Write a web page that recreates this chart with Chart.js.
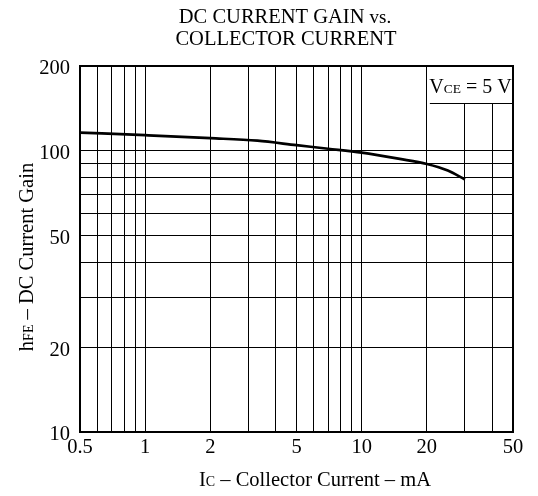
<!DOCTYPE html>
<html>
<head>
<meta charset="utf-8">
<script src="https://cdn.jsdelivr.net/npm/chart.js@4/dist/chart.umd.min.js"></script>
<style>
    html, body { margin: 0; padding: 0; background: #fff; }
    canvas { display: block; }
</style>
</head>
<body>
<canvas id="gainChart" width="538" height="496"></canvas>
<script>
// DC current gain vs collector current (log-log).
const currentMA = [0.5, 1, 2, 3.3, 5, 7, 10, 15, 20, 25, 30];
const gain = [116, 113.5, 110.8, 108.5, 104.6, 101.6, 98.4, 93.5, 89.7, 85, 79];

const xGrid = [0.5, 0.6, 0.7, 0.8, 0.9, 1, 2, 3, 4, 5, 6, 7, 8, 9, 10, 20, 30, 40, 50];
const xLabels = [0.5, 1, 2, 5, 10, 20, 50];
const yGrid = [10, 20, 30, 40, 50, 60, 70, 80, 90, 100, 200];
const yLabels = [10, 20, 50, 100, 200];

const SERIF = '"Liberation Serif", "Times New Roman", serif';

// Draw text pieces of mixed size (used for the small-caps subscripts).
function drawRuns(ctx, runs, x, y, align) {
    let total = 0;
    for (const r of runs) {
        ctx.font = `${r.size}px ${SERIF}`;
        r.w = ctx.measureText(r.text).width;
        total += r.w;
    }
    let cx = align === 'center' ? x - total / 2 : x;
    ctx.textAlign = 'left';
    ctx.textBaseline = 'alphabetic';
    for (const r of runs) {
        ctx.font = `${r.size}px ${SERIF}`;
        ctx.fillText(r.text, cx, y);
        cx += r.w;
    }
}

const frame = {
    id: 'frame',
    beforeDatasetsDraw(chart) {
        // white patch for the V_CE note, covering the 30/40 grid lines
        const { ctx, chartArea: a, scales } = chart;
        const left = scales.x.getPixelForValue(20) + 3;
        const bottom = a.top + 37;
        ctx.save();
        ctx.fillStyle = '#fff';
        ctx.fillRect(left, a.top, a.right - left, bottom - a.top);
        ctx.strokeStyle = '#000';
        ctx.lineWidth = 1;
        ctx.beginPath();
        ctx.moveTo(left, bottom + 0.5);
        ctx.lineTo(a.right, bottom + 0.5);
        ctx.stroke();
        ctx.restore();
    },
    afterDraw(chart) {
        const { ctx, chartArea: a, scales } = chart;
        ctx.save();
        ctx.strokeStyle = '#000';
        ctx.lineWidth = 2;
        ctx.strokeRect(a.left, a.top, a.right - a.left, a.bottom - a.top);
        ctx.fillStyle = '#000';

        drawRuns(ctx, [{ text: 'DC CURRENT GAIN ', size: 20.5 }, { text: 'vs.', size: 19 }], 285, 23, 'center');
        drawRuns(ctx, [{ text: 'COLLECTOR CURRENT', size: 20.5 }], 286, 45, 'center');

        drawRuns(ctx, [
            { text: 'I', size: 20.5 }, { text: 'C', size: 14 },
            { text: ' \u2013 Collector Current \u2013 mA', size: 20.5 },
        ], 315, 486, 'center');

        const noteLeft = scales.x.getPixelForValue(20) + 3;
        drawRuns(ctx, [
            { text: 'V', size: 20 }, { text: 'CE', size: 13.5 }, { text: ' = 5 V', size: 20 },
        ], (noteLeft + a.right) / 2 - 1, a.top + 27, 'center');

        ctx.translate(33, 257);
        ctx.rotate(-Math.PI / 2);
        drawRuns(ctx, [
            { text: 'h', size: 20.5 }, { text: 'FE', size: 14 },
            { text: ' \u2013 DC Current Gain', size: 20.5 },
        ], 0, 0, 'center');
        ctx.restore();
    }
};

new Chart(document.getElementById('gainChart').getContext('2d'), {
    type: 'line',
    data: {
        datasets: [{
            data: currentMA.map((x, i) => ({ x, y: gain[i] })),
            borderColor: '#000',
            borderWidth: 2.7,
            pointRadius: 0,
            cubicInterpolationMode: 'monotone',
            fill: false,
        }]
    },
    options: {
        responsive: false,
        animation: false,
        layout: { padding: { top: 66, right: 25, left: 0, bottom: 0 } },
        plugins: { legend: { display: false }, tooltip: { enabled: false }, title: { display: false } },
        scales: {
            x: {
                type: 'logarithmic', min: 0.5, max: 50,
                afterBuildTicks: s => { s.ticks = xGrid.map(v => ({ value: v })); },
                afterFit: s => { s.height = 64; },
                ticks: {
                    autoSkip: false, maxRotation: 0, padding: 3, color: '#000',
                    font: { family: SERIF, size: 20.5 },
                    callback: v => xLabels.includes(v) ? String(v) : '',
                },
                grid: { color: '#000', lineWidth: 1, drawTicks: false },
                border: { display: false },
            },
            y: {
                type: 'logarithmic', min: 10, max: 200,
                afterBuildTicks: s => { s.ticks = yGrid.map(v => ({ value: v })); },
                afterFit: s => { s.width = 80; },
                ticks: {
                    autoSkip: false, padding: 10, labelOffset: 3, color: '#000',
                    font: { family: SERIF, size: 20.5 },
                    callback: v => yLabels.includes(v) ? String(v) : '',
                },
                grid: { color: '#000', lineWidth: 1, drawTicks: false },
                border: { display: false },
            }
        }
    },
    plugins: [frame]
});
</script>
</body>
</html>
